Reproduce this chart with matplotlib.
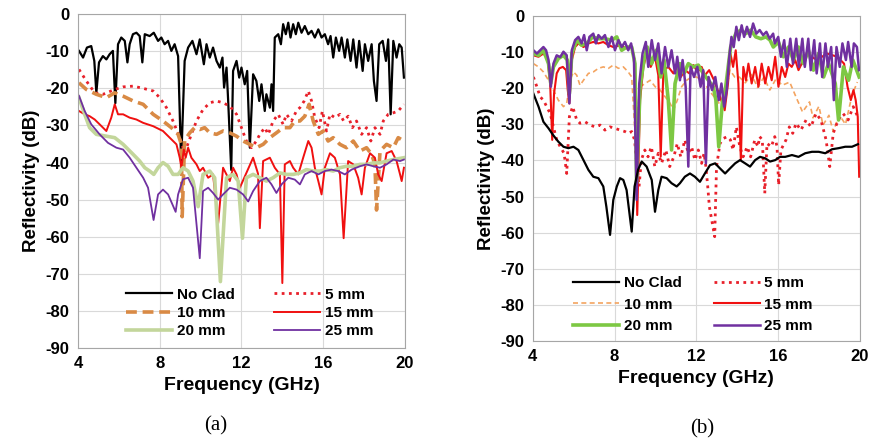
import numpy as np
import matplotlib
matplotlib.use("Agg")
import matplotlib.pyplot as plt

plt.rcParams['font.family'] = ['Liberation Sans', 'DejaVu Sans']
plt.rcParams['axes.unicode_minus'] = False

# --- (a) data: frequency (GHz), reflectivity (dB) ---
a_noclad_f = [4.05, 4.25, 4.44, 4.65, 4.8, 4.9, 5.03, 5.22, 5.39, 5.55, 5.71, 5.83, 5.96, 6.12, 6.29, 6.42,
              6.53, 6.69, 6.86, 7.02, 7.15, 7.27, 7.51, 7.71, 7.92, 8.08, 8.24, 8.41, 8.57, 8.73, 8.9, 9.05,
              9.22, 9.39, 9.6, 9.8, 9.96, 10.16, 10.29, 10.45, 10.61, 10.78, 10.94, 11.07, 11.15, 11.27, 11.35,
              11.5, 11.59, 11.76, 11.89, 12.0, 12.16, 12.28, 12.41, 12.57, 12.73, 12.87, 12.98, 13.14, 13.22,
              13.39, 13.47, 13.55, 13.63, 13.8, 13.93, 14.04, 14.17, 14.29, 14.4, 14.53, 14.66, 14.78, 14.94,
              15.1, 15.27, 15.43, 15.59, 15.76, 15.92, 16.08, 16.24, 16.36, 16.49, 16.62, 16.78, 16.9, 17.06,
              17.18, 17.34, 17.47, 17.63, 17.76, 17.93, 18.04, 18.2, 18.37, 18.48, 18.61, 18.74, 18.91, 19.07,
              19.18, 19.3, 19.43, 19.59, 19.72, 19.84, 19.95]
a_noclad_db = [-9.9, -11.7, -9, -8.6, -12.6, -21.2, -13, -11.3, -12.2, -10.8, -9.9, -24, -8.1, -6.3, -7.2, -13,
               -8.1, -5.4, -5, -5.9, -13, -5.4, -5.9, -5, -7.2, -6.3, -8.1, -7.2, -9.9, -8.1, -11.3, -40,
               -12.6, -9, -7.2, -10.8, -6.8, -13.5, -8.1, -11.7, -9, -12.6, -14.4, -11.7, -19.8, -14.4, -23.4,
               -42, -15.3, -12.6, -17.1, -14.4, -18.9, -15.3, -36, -16.2, -18, -23.4, -18.9, -26.1, -21.6,
               -25.2, -18.9, -26.1, -6.3, -5.4, -8.1, -2.7, -5.4, -2.3, -6.3, -2.7, -5.4, -2.3, -5,
               -3.2, -5.4, -4.5, -6.3, -4.1, -6.3, -5.4, -8.1, -5.9, -11.7, -6.3, -9.9, -6.3, -11.7,
               -6.8, -12.6, -6.8, -14.4, -7.2, -15.3, -8.1, -12.6, -8.1, -18, -23.4, -8.1, -7.2, -12.6,
               -6.8, -27, -7.2, -11.7, -8.1, -9, -17.1]

a_5mm_f = [4.05, 4.41, 4.82, 5.23, 5.8, 6.21, 6.7, 7.19, 7.68, 8.0, 8.33, 8.65, 8.98, 9.14, 9.31, 9.55,
           9.8, 10.12, 10.45, 10.78, 11.1, 11.43, 11.76, 12.0, 12.24, 12.49, 12.73, 12.9, 13.14, 13.31, 13.55,
           13.8, 14.04, 14.2, 14.45, 14.69, 14.86, 15.07, 15.27, 15.43, 15.59, 15.8, 15.96, 16.16, 16.33,
           16.57, 16.82, 17.0, 17.22, 17.43, 17.63, 17.88, 18.12, 18.33, 18.53, 18.78, 18.94, 19.18, 19.43,
           19.67, 19.95]
a_5mm_db = [-14.9, -18, -21.2, -21.6, -20.3, -19.6, -19.4, -20, -20.7, -22.5, -25.2, -28.8, -33.3, -36, -36,
            -32.4, -28.8, -25.7, -23.9, -23.4, -23.9, -24.8, -27, -30.6, -34.2, -36, -34.2, -32.4, -30.6,
            -32.4, -28.8, -27, -29.7, -27, -28.8, -26.1, -25.2, -23.4, -20.7, -23.4, -27.9, -30.6, -26.1,
            -31.5, -27, -27.9, -27, -28.8, -27.5, -30.6, -28.8, -32.4, -30.6, -34.2, -30.6, -32.4, -28.8,
            -27, -26.6, -26.1, -24.3]

a_10mm_f = [4.05, 4.41, 4.9, 5.39, 5.8, 6.21, 6.7, 7.19, 7.68, 8.16, 8.57, 8.9, 9.06, 9.1, 9.22, 9.47, 9.71,
            9.96, 10.2, 10.45, 10.78, 11.1, 11.43, 11.76, 12.08, 12.41, 12.73, 13.06, 13.39, 13.71, 14.04,
            14.37, 14.61, 14.86, 15.1, 15.31, 15.51, 15.76, 16.0, 16.24, 16.49, 16.82, 17.14, 17.47, 17.8,
            18.12, 18.37, 18.53, 18.61, 18.78, 19.1, 19.43, 19.67, 19.95]
a_10mm_db = [-18.5, -20.3, -21.6, -22.5, -21.2, -22.1, -23.4, -24.3, -27, -28.8, -30.6, -32.4, -35.1, -54.6,
             -34, -32, -30.6, -31.1, -30.6, -32, -32.4, -31.5, -32, -32.9, -34.2, -35.1, -36, -35.1, -33.3,
             -32, -30.6, -30.6, -28.8, -28.8, -27.5, -24.3, -28.8, -32.4, -31.5, -34.2, -33.3, -35.1, -36,
             -34.2, -36.9, -36, -37.8, -40.5, -52.8, -36.9, -35.1, -36, -33.3, -34.2]

a_15mm_f = [4.05, 4.33, 4.57, 4.82, 5.06, 5.39, 5.63, 5.8, 5.96, 6.21, 6.53, 6.86, 7.19, 7.68, 8.16, 8.49,
            8.82, 8.98, 9.06, 9.18, 9.27, 9.39, 9.55, 9.8, 9.96, 10.12, 10.37, 10.61, 10.86, 11.1, 11.43,
            11.59, 11.76, 11.92, 12.57, 12.81, 12.9, 13.06, 13.39, 13.63, 13.88, 14.0, 14.12, 14.37, 14.53,
            14.78, 15.02, 15.27, 15.43, 15.59, 15.76, 15.92, 16.08, 16.33, 16.57, 16.82, 17.0, 17.22, 17.47,
            17.71, 17.88, 18.04, 18.29, 18.53, 18.69, 18.86, 19.1, 19.35, 19.59, 19.76, 19.84, 19.95]
a_15mm_db = [-26.1, -27, -27.5, -28.4, -29.7, -31.5, -27.9, -24.3, -27, -27, -27.9, -28.4, -29.3, -30.2, -31.5,
             -33.3, -35.1, -38.7, -41.4, -36.5, -38.7, -36, -38.7, -40.5, -42.3, -41.4, -44.1, -43.2, -56.4,
             -41.4, -45, -41.4, -43.2, -46.8, -38.7, -43, -57.7, -39.6, -38.7, -41.4, -43.2, -72.5, -40.5,
             -39.6, -41.4, -43.2, -38.7, -34.2, -36, -41.4, -45, -48.6, -41.4, -37.5, -38.7, -43.2, -60.4,
             -39.6, -40.5, -44.1, -48.6, -41.4, -37.5, -38.7, -43.2, -45, -37.5, -36.9, -39.6, -43.2, -45,
             -41.4]

a_20mm_f = [4.05, 4.33, 4.57, 4.9, 5.39, 5.8, 6.21, 6.7, 7.02, 7.27, 7.51, 7.71, 7.92, 8.16, 8.41, 8.65, 8.9,
            9.14, 9.39, 9.63, 9.88, 10.12, 10.45, 10.69, 10.97, 11.27, 11.59, 11.84, 12.05, 12.24, 12.57,
            12.9, 13.22, 13.55, 13.88, 14.2, 14.53, 14.86, 15.18, 15.51, 15.84, 16.16, 16.49, 16.82, 17.14,
            17.47, 17.8, 18.12, 18.45, 18.78, 19.1, 19.43, 19.95]
a_20mm_db = [-22.5, -27, -30.6, -32.4, -32.9, -33.3, -35.1, -37.8, -39.6, -41.4, -42.3, -43.2, -41.4, -40,
             -41, -43.2, -43.2, -41.4, -42.3, -45, -51.9, -43.2, -42.3, -44.1, -72.1, -44.1, -43.2, -45,
             -60.4, -44.1, -43.2, -44.1, -45, -44.1, -42.8, -43.2, -43.2, -42.8, -41.9, -42.3, -42.3, -41.9,
             -42.3, -41.4, -41, -41, -40.5, -40.5, -40.1, -40.1, -39.6, -39.2, -38.7]

a_25mm_f = [4.05, 4.33, 4.65, 5.06, 5.47, 5.88, 6.21, 6.53, 6.86, 7.19, 7.43, 7.7, 7.92, 8.16, 8.41, 8.78,
            8.9, 9.14, 9.39, 9.63, 9.96, 10.12, 10.37, 10.61, 10.86, 11.1, 11.43, 11.76, 12.08, 12.33, 12.57,
            12.9, 13.22, 13.47, 13.71, 13.96, 14.29, 14.61, 14.86, 15.1, 15.43, 15.76, 16.08, 16.41, 16.73,
            17.06, 17.39, 17.8, 18.12, 18.45, 18.78, 19.1, 19.43, 19.76, 19.95]
a_25mm_db = [-22, -26.1, -29.7, -32.4, -34.7, -36, -36.5, -38.7, -41.4, -44.1, -46.8, -55.5, -48.6, -47.3,
             -48.6, -53.3, -48.6, -44.5, -44.1, -46.8, -65.8, -47.7, -46.8, -48.2, -50, -48.6, -46.8, -47.3,
             -48.6, -50.5, -47.7, -45, -44.1, -45.9, -48.2, -45.9, -44.1, -44.6, -45.9, -43.2, -42.3, -43.2,
             -42.3, -41.9, -42.3, -43.2, -41.9, -41, -40.5, -41, -41.4, -40.5, -39.2, -39.6, -39.2]

# --- (b) data ---
b_noclad_f = [4.03, 4.28, 4.52, 4.77, 5.0, 5.25, 5.5, 5.74, 5.99, 6.23, 6.48, 6.72, 6.96, 7.21, 7.45, 7.6,
              7.78, 7.94, 8.11, 8.27, 8.43, 8.59, 8.84, 8.98, 9.15, 9.33, 9.57, 9.82, 9.98, 10.14, 10.3, 10.55,
              10.79, 11.04, 11.2, 11.44, 11.69, 11.93, 12.18, 12.42, 12.67, 12.92, 13.16, 13.41, 13.65, 13.9,
              14.14, 14.39, 14.63, 14.88, 15.12, 15.37, 15.61, 15.86, 16.1, 16.35, 16.68, 17.0, 17.33, 17.66,
              17.99, 18.31, 18.64, 18.96, 19.29, 19.62, 19.91]
b_noclad_db = [-21.5, -25.1, -29.3, -31.1, -33, -34.8, -36.2, -36.6, -36.2, -37.1, -39.9, -42.6, -44.5, -44.9,
               -47.2, -52.8, -60.6, -50.9, -47.2, -44.9, -45.4, -48.2, -59.7, -47.2, -42.6, -40.3, -41.7,
               -45.4, -54.2, -48.2, -44.5, -44.9, -46.3, -47.2, -46.3, -44.5, -43.6, -44.5, -45.9, -43.6,
               -41.3, -40.8, -42.2, -43.6, -42.2, -40.8, -39.9, -40.8, -41.7, -39.9, -39, -39.4, -40.3, -39.9,
               -39, -39, -38.5, -39, -38, -37.6, -37.6, -38, -36.9, -36.6, -36.2, -36.2, -35.5]

b_5mm_f = [4.03, 4.2, 4.36, 4.52, 4.68, 4.85, 5.01, 5.17, 5.34, 5.53, 5.66, 5.79, 5.95, 6.15, 6.31, 6.56,
           6.8, 7.05, 7.29, 7.53, 7.78, 8.02, 8.27, 8.51, 8.67, 8.84, 8.98, 9.1, 9.2, 9.31, 9.48, 9.64, 9.8,
           9.97, 10.14, 10.3, 10.51, 10.7, 10.9, 11.07, 11.24, 11.44, 11.61, 11.77, 11.93, 12.1, 12.26, 12.38,
           12.47, 12.56, 12.64, 12.9, 12.99, 13.16, 13.33, 13.51, 13.67, 13.8, 13.96, 14.13, 14.29, 14.49,
           14.66, 14.86, 15.02, 15.1, 15.23, 15.35, 15.46, 15.67, 15.84, 15.95, 16.03, 16.14, 16.39, 16.55,
           16.72, 16.88, 17.12, 17.37, 17.61, 17.86, 18.1, 18.35, 18.53, 18.7, 18.94, 19.18, 19.43, 19.68,
           19.9]
b_5mm_db = [-16.9, -19.6, -22.4, -23.3, -25.1, -27, -30.7, -34.3, -36.2, -38, -43.6, -27.9, -25.1, -28.8,
            -29.7, -29.3, -30.2, -30.7, -30.2, -31.6, -30.7, -31.1, -31.6, -32, -32.5, -32, -34.3, -41.7,
            -47.2, -39.9, -37.1, -39, -36.2, -41.7, -38, -40.8, -37.1, -41.7, -39, -35.3, -39, -34.3, -38,
            -36.2, -39.9, -37.1, -40.8, -38, -41.7, -47.2, -52.8, -61.1, -41.7, -35.3, -33.9, -33.4, -34.3,
            -37.1, -30.7, -36.2, -39, -36.2, -39, -34.3, -36.2, -33.4, -34.3, -49.1, -35.3, -36.2, -33.4,
            -36.2, -46.8, -37.1, -34.3, -30.7, -32.5, -29.7, -31.6, -28.8, -30.7, -27, -28.8, -34.3, -41.7,
            -32.5, -28.8, -27, -28.8, -25.1, -27.9]

b_10mm_f = [4.03, 4.28, 4.52, 4.77, 5.01, 5.25, 5.5, 5.66, 5.82, 5.99, 6.15, 6.31, 6.48, 6.72, 6.96, 7.21,
            7.45, 7.7, 7.94, 8.19, 8.43, 8.67, 8.84, 9.0, 9.25, 9.5, 9.74, 9.99, 10.23, 10.48, 10.72, 10.88,
            11.07, 11.28, 11.53, 11.77, 12.02, 12.26, 12.51, 12.75, 13.0, 13.24, 13.49, 13.65, 13.88, 14.1,
            14.4, 14.7, 15.0, 15.3, 15.6, 15.9, 16.2, 16.57, 16.9, 17.2, 17.54, 17.71, 18.0, 18.2, 18.49,
            18.7, 19.0, 19.3, 19.62, 19.88]
b_10mm_db = [-13.2, -14.1, -15.5, -17.8, -20.5, -23.3, -25.1, -24.2, -17.8, -15.5, -16.4, -19.2, -17.8, -15.9,
             -15.5, -14.5, -14.1, -14.5, -13.6, -14.5, -14.1, -15.5, -16.9, -32.5, -19.6, -18.7, -17.8, -19.6,
             -20.5, -22.4, -24.2, -26.1, -23.3, -19.6, -17.8, -16.9, -16.9, -18.2, -19.6, -21.5, -23.3,
             -25.1, -19.6, -15, -16.9, -16.9, -18.5, -16.2, -19.8, -17, -20.5, -17.4, -19.2, -18.3, -22.7,
             -26.6, -23.8, -28.2, -25, -30.2, -27.5, -32, -27.4, -30, -21.9, -18.3]

b_15mm_f = [4.03, 4.28, 4.52, 4.72, 4.85, 4.95, 5.04, 5.17, 5.3, 5.47, 5.63, 5.71, 5.79, 5.91, 6.07, 6.23,
            6.48, 6.72, 6.96, 7.21, 7.45, 7.7, 7.94, 8.27, 8.59, 8.84, 8.98, 9.11, 9.25, 9.41, 9.57, 9.77,
            9.98, 10.14, 10.26, 10.39, 10.63, 10.88, 11.07, 11.24, 11.45, 11.66, 11.86, 12.06, 12.26, 12.42,
            12.63, 12.87, 13.11, 13.39, 13.55, 13.67, 13.8, 13.93, 14.06, 14.18, 14.3, 14.43, 14.55, 14.71,
            14.88, 15.04, 15.2, 15.37, 15.53, 15.69, 15.86, 16.02, 16.18, 16.35, 16.51, 16.67, 16.84, 17.0,
            17.4, 17.9, 18.4, 18.9, 19.23, 19.4, 19.56, 19.69, 19.8, 19.9, 19.97]
b_15mm_db = [-10.9, -11.3, -10.4, -11.8, -18.7, -34.3, -21.5, -15.9, -14.5, -14.1, -15, -20.5, -24.2, -12.2,
             -8.6, -7.6, -8.6, -7.6, -7.2, -7.6, -7.2, -8.1, -8.6, -8.1, -9, -8.6, -12.2, -55.1, -23.3, -14.1,
             -10.4, -14.1, -11.3, -16.4, -38.9, -15, -14.1, -15.9, -14.1, -16.9, -15, -15.9, -13.6, -15.5,
             -14.1, -16.4, -15, -17.8, -21.5, -26.1, -18.7, -10.4, -14.1, -9.5, -18.7, -39.9, -14.1, -17.8,
             -13.2, -18.7, -14.1, -19.6, -13.2, -18.7, -14.1, -17.8, -11.3, -19.6, -14.1, -16.9, -13.2,
             -14.1, -12.2, -15, -10.4, -12.2, -10.4, -11.3, -13.2, -19.6, -23.3, -20.5, -23.3, -27.9, -44.5]

b_20mm_f = [4.03, 4.28, 4.52, 4.77, 4.88, 5.01, 5.25, 5.5, 5.69, 5.79, 5.91, 6.15, 6.39, 6.64, 6.93, 7.21,
            7.53, 7.86, 8.11, 8.35, 8.59, 8.84, 9.0, 9.08, 9.25, 9.44, 9.6, 9.81, 10.03, 10.26, 10.42, 10.63,
            10.79, 10.96, 11.2, 11.4, 11.61, 11.85, 12.1, 12.34, 12.59, 12.83, 12.96, 13.1, 13.27, 13.44,
            13.68, 13.93, 14.18, 14.42, 14.67, 14.91, 15.16, 15.41, 15.61, 15.77, 16.02, 16.26, 16.51, 16.75,
            17.0, 17.24, 17.49, 17.73, 17.98, 18.23, 18.47, 18.8, 18.96, 19.2, 19.45, 19.66, 19.97]
b_20mm_db = [-10.4, -10.9, -9.5, -13.2, -18.7, -14.1, -11.8, -10.9, -12.2, -21.5, -10.4, -6.7, -8.1, -7.6,
             -5.8, -6.3, -6.3, -6.7, -5.8, -9.5, -8.6, -8.6, -13.2, -46.3, -19.6, -12.2, -8.6, -13.2, -9.5,
             -16.9, -12.2, -23.3, -37.1, -18.7, -13.2, -15.9, -13.2, -14.1, -13.6, -15.9, -17.8, -19.6,
             -23.3, -36.2, -24.2, -19.6, -8.6, -4.9, -3.9, -4.9, -3.9, -5.8, -6.3, -5.8, -6.7, -8.6, -7.2,
             -11.3, -8.6, -12.2, -8.6, -13.2, -9.5, -15, -10.4, -16.9, -13.2, -18.7, -28.8, -14.1, -17.8,
             -12.2, -16.9]

b_25mm_f = [4.03, 4.2, 4.36, 4.52, 4.65, 4.77, 4.88, 5.01, 5.17, 5.34, 5.5, 5.66, 5.79, 5.91, 6.07, 6.23,
            6.39, 6.51, 6.64, 6.77, 6.96, 7.09, 7.21, 7.37, 7.53, 7.7, 7.86, 8.02, 8.19, 8.35, 8.51, 8.67,
            8.81, 8.95, 9.08, 9.21, 9.37, 9.53, 9.65, 9.82, 9.98, 10.14, 10.3, 10.47, 10.63, 10.79, 10.96,
            11.07, 11.2, 11.33, 11.48, 11.61, 11.72, 11.89, 12.05, 12.21, 12.34, 12.47, 12.6, 12.77, 12.93,
            13.1, 13.23, 13.36, 13.49, 13.6, 13.72, 13.83, 13.96, 14.08, 14.22, 14.34, 14.48, 14.63, 14.78,
            14.94, 15.1, 15.27, 15.43, 15.59, 15.76, 15.84, 16.01, 16.14, 16.3, 16.43, 16.6, 16.73, 16.89,
            17.02, 17.19, 17.31, 17.48, 17.6, 17.77, 17.89, 18.05, 18.16, 18.32, 18.44, 18.6, 18.73, 18.86,
            19.02, 19.15, 19.32, 19.43, 19.6, 19.71, 19.86, 19.96]
b_25mm_db = [-9.5, -10.4, -9.5, -8.6, -9.5, -12.2, -19.6, -13.2, -10.9, -11.4, -9.9, -10.9, -24.2, -9.5, -6.7,
             -5.8, -7.6, -5.3, -9.5, -5.8, -4.9, -7.6, -5.3, -6.3, -5.3, -8.6, -5.8, -9.5, -6.7, -8.6, -7.2,
             -9.5, -7.6, -11.8, -50.9, -18.7, -10.4, -7.2, -14.1, -6.7, -12.2, -7.6, -15.9, -8.6, -14.1, -9.5,
             -15.9, -11.3, -17.8, -12.2, -19.6, -41.7, -14.1, -16.9, -14.1, -19.6, -15, -40.8, -16.9, -20.5,
             -16.9, -23.3, -18.7, -25.1, -20.5, -12.2, -5.8, -8.6, -3, -6.7, -2.6, -5.8, -3, -5.8, -2.1, -4.9,
             -3.9, -5.3, -4.4, -6.3, -4.9, -7.6, -5.8, -11.3, -6.7, -14.1, -6.3, -13.2, -6.3, -14.1, -6.3,
             -14.1, -6.3, -15, -6.7, -15.9, -7.6, -16.9, -7.6, -14.1, -8.6, -23.3, -8.6, -14.1, -7.6, -12.2,
             -7.2, -14.1, -7.6, -8.6, -15]

labels = ["No Clad", "5 mm", "10 mm", "15 mm", "20 mm", "25 mm"]

fig = plt.figure(figsize=(8.72, 4.43), dpi=100)
ax_a = fig.add_axes([0.0894, 0.2145, 0.375, 0.7535])
ax_b = fig.add_axes([0.611, 0.23, 0.375, 0.734])

# (a)
la = [
    ax_a.plot(a_noclad_f, a_noclad_db, color='black', lw=1.6)[0],
    ax_a.plot(a_5mm_f, a_5mm_db, color='#E8202A', lw=2.0, ls=(0, (1, 1.6)))[0],
    ax_a.plot(a_10mm_f, a_10mm_db, color='#D98A45', lw=2.6, ls=(0, (3, 1.6)))[0],
    ax_a.plot(a_15mm_f, a_15mm_db, color='#F01010', lw=1.4)[0],
    ax_a.plot(a_20mm_f, a_20mm_db, color='#C3D69B', lw=2.6)[0],
    ax_a.plot(a_25mm_f, a_25mm_db, color='#7030A0', lw=1.3)[0],
]

# (b)
lb = [
    ax_b.plot(b_noclad_f, b_noclad_db, color='black', lw=1.6)[0],
    ax_b.plot(b_5mm_f, b_5mm_db, color='#E8202A', lw=2.0, ls=(0, (1, 1.6)))[0],
    ax_b.plot(b_10mm_f, b_10mm_db, color='#F4A460', lw=1.2, ls=(0, (3, 2)))[0],
    ax_b.plot(b_15mm_f, b_15mm_db, color='#F01010', lw=1.5)[0],
    ax_b.plot(b_20mm_f, b_20mm_db, color='#7DC843', lw=2.6)[0],
    ax_b.plot(b_25mm_f, b_25mm_db, color='#7030A0', lw=1.8)[0],
]
# keep 10 mm under 15/20/25 in (b)
lb[2].set_zorder(1.5)
lb[0].set_zorder(2.5)

order = [0, 2, 4, 1, 3, 5]
# legend anchor x, anchor y, row spacing, column spacing
leg_opts = {ax_a: (0.525, -0.012, 0.28, 2.6), ax_b: (0.49, -0.018, 0.5, 2.1)}
for ax, lines in [(ax_a, la), (ax_b, lb)]:
    ax.set_xlim(4, 20)
    ax.set_ylim(-90, 0)
    ax.set_xticks([4, 8, 12, 16, 20])
    ax.set_yticks(np.arange(-90, 1, 10))
    ax.grid(True, color='#D9D9D9', lw=0.8)
    ax.set_axisbelow(True)
    for s in ax.spines.values():
        s.set_color('#A6A6A6')
    ax.tick_params(length=0, labelsize=12, pad=6)
    for t in ax.get_xticklabels() + ax.get_yticklabels():
        t.set_fontweight('bold')
    ax.set_xlabel("Frequency (GHz)", fontsize=14, fontweight='bold', labelpad=4)
    ax.set_ylabel("Reflectivity (dB)", fontsize=13.5, fontweight='bold', labelpad=4)
    x0, y0, sp, cs = leg_opts[ax]
    ax.legend([lines[i] for i in order], [labels[i] for i in order], ncol=2, loc='lower center',
              bbox_to_anchor=(x0, y0), frameon=False, handlelength=3.0, handletextpad=0.3,
              columnspacing=cs, labelspacing=sp, prop={'weight': 'bold', 'size': 11})

fig.text(0.247, 0.038, "(a)", ha='center', va='center', fontsize=15, family='Liberation Serif')
fig.text(0.805, 0.033, "(b)", ha='center', va='center', fontsize=15, family='Liberation Serif')

fig.savefig("out.png", dpi=100)
